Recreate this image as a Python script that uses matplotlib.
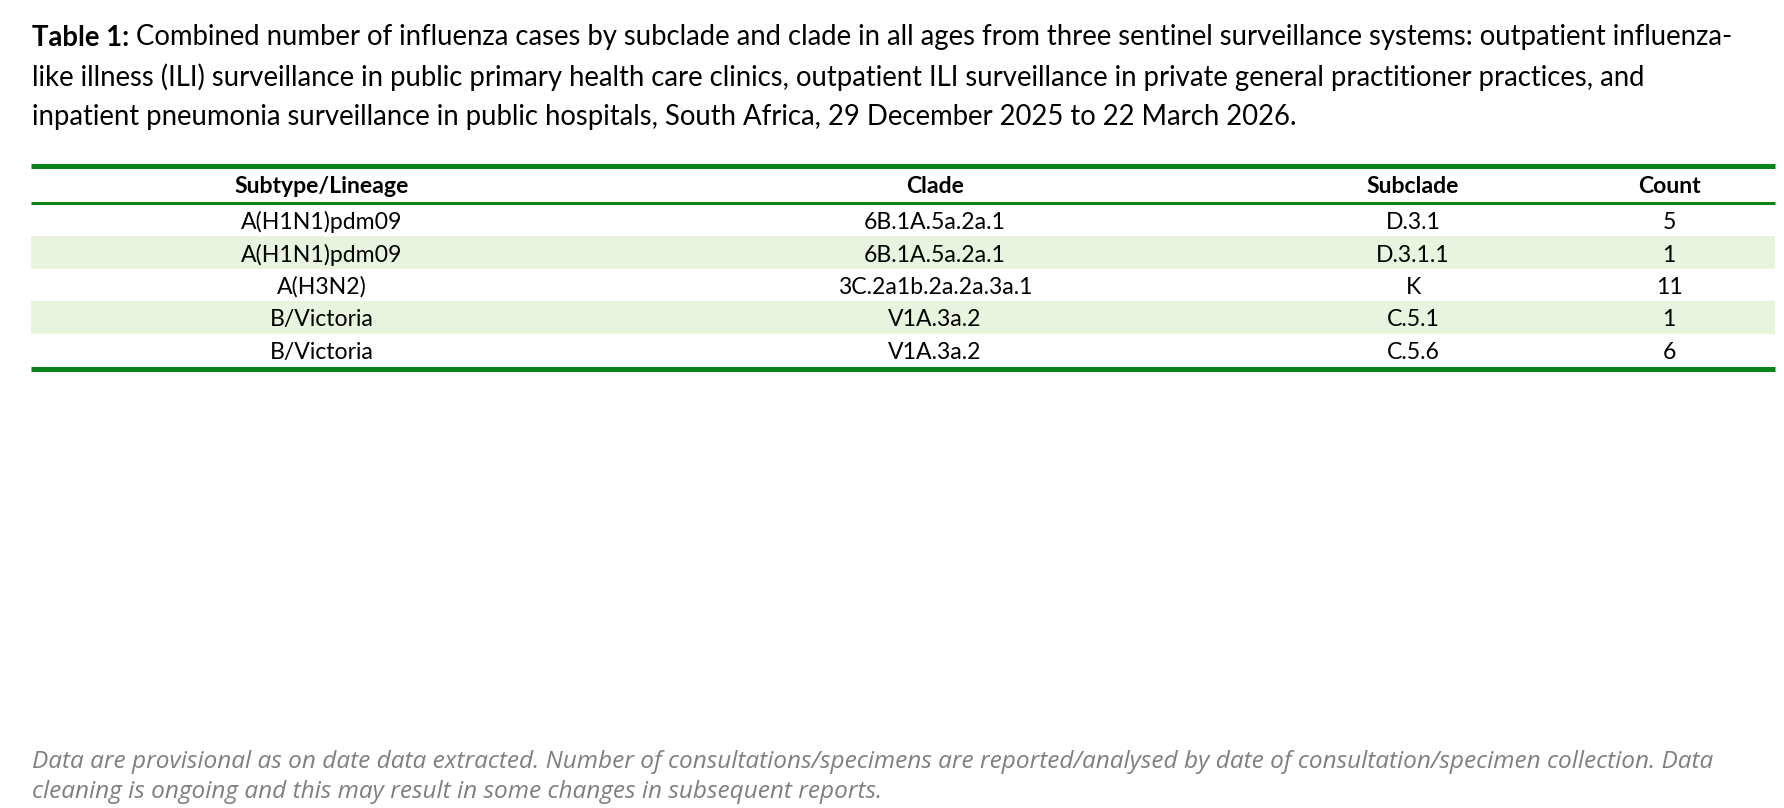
import matplotlib
matplotlib.use("Agg")
import matplotlib.pyplot as plt

# table content
columns = ["Subtype/Lineage", "Clade", "Subclade", "Count"]
subtypes = ["A(H1N1)pdm09", "A(H1N1)pdm09", "A(H3N2)", "B/Victoria", "B/Victoria"]
clades = ["6B.1A.5a.2a.1", "6B.1A.5a.2a.1", "3C.2a1b.2a.2a.3a.1", "V1A.3a.2", "V1A.3a.2"]
subclades = ["D.3.1", "D.3.1.1", "K", "C.5.1", "C.5.6"]
counts = [5, 1, 11, 1, 6]

title_bold = "Table 1:"
title_lines = [
    " Combined number of influenza cases by subclade and clade in all ages from three sentinel surveillance systems: outpatient influenza-",
    "like illness (ILI) surveillance in public primary health care clinics, outpatient ILI surveillance in private general practitioner practices, and",
    "inpatient pneumonia surveillance in public hospitals, South Africa, 29 December 2025 to 22 March 2026.",
]
note_lines = [
    "Data are provisional as on date data extracted. Number of consultations/specimens are reported/analysed by date of consultation/specimen collection. Data",
    "cleaning is ongoing and this may result in some changes in subsequent reports.",
]

GREEN = "#0a8418"
SHADE = "#e8f4dd"
W, H = 1784, 808

fig = plt.figure(figsize=(W / 100, H / 100), dpi=100)
ax = fig.add_axes([0, 0, 1, 1])
ax.set_xlim(0, W)
ax.set_ylim(H, 0)
ax.axis("off")

# title
tfont = dict(family="Lato", size=19.85, color="black")
t0 = ax.text(32, 45.5, title_bold, fontweight="bold", va="baseline", ha="left", **tfont)
ax.annotate(title_lines[0], xy=(1, 0), xycoords=t0, va="bottom", ha="left", **tfont)
for i, line in enumerate(title_lines[1:]):
    ax.text(32, 86 + 39.5 * i, line, va="baseline", ha="left", **tfont)

# table geometry
x0, x1 = 31, 1775
col_x = [322, 935, 1413, 1669]
head_top, head_bot = 165.5, 202.5
row_top, row_h = 204, 32.4
fsize = 16.6

rows = list(zip(subtypes, clades, subclades, counts))
for i, row in enumerate(rows):
    y_top = row_top + row_h * i
    if i % 2 == 1:
        ax.axhspan(y_top, y_top + row_h, xmin=x0 / W, xmax=x1 / W, color=SHADE, lw=0, zorder=0)
    for cx, val in zip(col_x, row):
        ax.text(cx, y_top + row_h / 2 + 9, str(val), ha="center", va="baseline",
                family="Lato", size=fsize, color="black")

for cx, name in zip(col_x, columns):
    ax.text(cx, 193, name, ha="center", va="baseline", family="Lato", size=fsize,
            fontweight="bold", color="black")

bottom = row_top + row_h * len(rows) + 2.5
ax.plot([x0, x1], [head_top, head_top], color=GREEN, lw=5 * 0.72, solid_capstyle="butt")
ax.plot([x0, x1], [head_bot, head_bot], color=GREEN, lw=3 * 0.72, solid_capstyle="butt")
ax.plot([x0, x1], [bottom, bottom], color=GREEN, lw=5 * 0.72, solid_capstyle="butt")

# footnote
for i, line in enumerate(note_lines):
    ax.text(32, 768.5 + 30 * i, line, ha="left", va="baseline", family="Open Sans",
            style="italic", size=17.55, color="#7f7f7f")

fig.savefig("out.png", dpi=100)
